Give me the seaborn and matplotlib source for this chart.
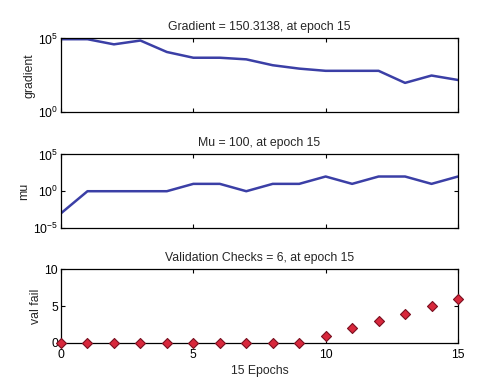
import matplotlib
matplotlib.use("Agg")
import matplotlib.pyplot as plt
import seaborn as sns
import numpy as np
import pandas as pd
from matplotlib.ticker import FixedLocator, FixedFormatter

sns.set_style("white")
plt.rcParams['font.family'] = ['Liberation Sans', 'DejaVu Sans']
plt.rcParams['mathtext.fontset'] = 'custom'
plt.rcParams['mathtext.rm'] = 'Liberation Sans'

epochs = list(range(16))
gradient = [10**4.95, 10**4.95, 10**4.6, 10**4.86, 10**4.08, 10**3.69, 10**3.69, 10**3.58,
            10**3.18, 10**2.95, 10**2.8, 10**2.8, 10**2.8, 10**1.98, 10**2.48, 150.3138]
mu = [1e-3, 1, 1, 1, 1, 10, 10, 1, 10, 10, 100, 10, 100, 100, 10, 100]
val_fail = [0, 0, 0, 0, 0, 0, 0, 0, 0, 0, 1, 2, 3, 4, 5, 6]

titles = ["Gradient = 150.3138, at epoch 15", "Mu = 100, at epoch 15",
          "Validation Checks = 6, at epoch 15"]
ylabels = ["gradient", "mu", "val fail"]
xlabel = "15 Epochs"

df = pd.DataFrame({"epoch": epochs, "gradient": gradient, "mu": mu, "val_fail": val_fail})

fig = plt.figure(figsize=(4.88, 3.87), dpi=100)
L, W, H = 0.125, 0.8135, 0.19
ax1 = fig.add_axes([L, 0.7106, W, H])
ax2 = fig.add_axes([L, 0.4109, W, H])
ax3 = fig.add_axes([L, 0.1137, W, H])

line_color = "#3b3fa6"
fs = 8.8

sns.lineplot(data=df, x="epoch", y="gradient", ax=ax1, color=line_color, linewidth=1.8)
ax1.set_yscale("log")
ax1.set_ylim(1, 1e5)
ax1.yaxis.set_major_locator(FixedLocator([1, 1e5]))
ax1.yaxis.set_major_formatter(FixedFormatter([r"$10^{0}$", r"$10^{5}$"]))
ax1.yaxis.set_minor_locator(FixedLocator([]))

sns.lineplot(data=df, x="epoch", y="mu", ax=ax2, color=line_color, linewidth=1.8)
ax2.set_yscale("log")
ax2.set_ylim(1e-5, 1e5)
ax2.yaxis.set_major_locator(FixedLocator([1e-5, 1, 1e5]))
ax2.yaxis.set_major_formatter(FixedFormatter([r"$10^{-5}$", r"$10^{0}$", r"$10^{5}$"]))
ax2.yaxis.set_minor_locator(FixedLocator([]))

sns.scatterplot(data=df, x="epoch", y="val_fail", ax=ax3, marker="D", color="#d8283c",
                edgecolor="#7a1020", linewidth=0.8, s=26, zorder=3, clip_on=False)
ax3.set_ylim(0, 10)
ax3.set_yticks([0, 5, 10])

for ax, t, yl in zip([ax1, ax2, ax3], titles, ylabels):
    ax.set_xlim(0, 15)
    ax.set_xticks([0, 5, 10, 15])
    ax.set_title(t, fontsize=fs, pad=6)
    ax.set_ylabel(yl, fontsize=fs, labelpad=2)
    ax.set_xlabel("")
    ax.tick_params(axis="both", direction="in", length=3, width=0.8, labelsize=fs,
                   top=True, right=True, bottom=True, left=True, pad=2, colors="black")
    ax.tick_params(axis="x", pad=4)
    for s in ax.spines.values():
        s.set_color("black")
        s.set_linewidth(0.9)

ax1.tick_params(labelbottom=False)
ax2.tick_params(labelbottom=False)
ax3.set_xlabel(xlabel, fontsize=fs, labelpad=3)

fig.savefig("out.png", dpi=100)
